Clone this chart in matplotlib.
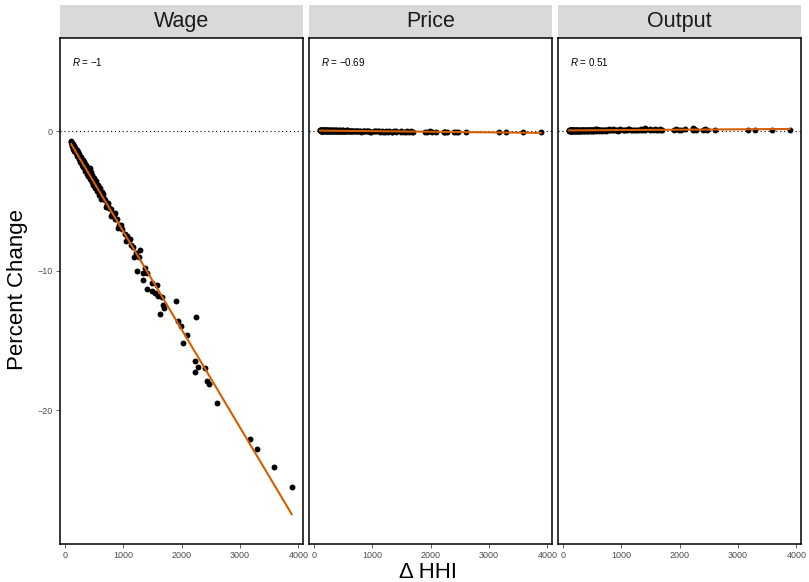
import matplotlib
matplotlib.use("Agg")
import matplotlib.pyplot as plt
from matplotlib.patches import Rectangle
import numpy as np

plt.rcParams['font.family'] = ['Liberation Sans', 'DejaVu Sans']
plt.rcParams['mathtext.fontset'] = 'custom'
plt.rcParams['mathtext.rm'] = 'Liberation Sans'
plt.rcParams['mathtext.it'] = 'Liberation Sans:italic'

# change in HHI for each simulated merger
delta_hhi = [105, 112, 118, 125, 130, 138, 145, 150, 158, 165,
             172, 180, 188, 195, 205, 215, 222, 230, 240, 250,
             262, 270, 285, 295, 310, 322, 335, 350, 362, 378,
             390, 405, 420, 432, 448, 460, 475, 490, 505, 520,
             538, 555, 570, 590, 610, 628, 645, 665, 690, 712,
             735, 760, 785, 810, 838, 865, 890, 920, 950, 985,
             1020, 1055, 1090, 1130, 1170, 1210, 1240, 1260, 1286, 1332,
             1335, 1371, 1400, 1411, 1486, 1490, 1543, 1571, 1600, 1629,
             1657, 1686, 1690, 1903, 1932, 1989, 2017, 2086, 2229, 2232,
             2240, 2286, 2400, 2429, 2474, 2600, 3172, 3286, 3589, 3886,
             108, 121, 134, 142, 155, 162, 176, 184, 199, 210,
             226, 236, 246, 258, 278, 290, 302, 316, 329, 342,
             356, 370, 384, 398, 413, 426, 441, 455, 468, 483,
             498, 512, 530, 546, 562, 580, 600, 620, 655, 700,
             745, 795, 850, 905, 965, 1040, 1110, 1190]

wage = [-0.80, -0.95, -0.88, -1.02, -0.98, -1.12, -1.05, -1.20, -1.22, -1.30,
        -1.25, -1.40, -1.45, -1.38, -1.62, -1.55, -1.70, -1.74, -1.80, -1.95,
        -1.88, -2.05, -2.12, -2.20, -2.35, -2.25, -2.50, -2.62, -2.55, -2.78,
        -2.85, -3.00, -3.05, -2.67, -3.30, -3.38, -3.50, -3.42, -3.72, -3.80,
        -3.95, -3.88, -4.15, -4.30, -4.45, -4.38, -4.70, -4.85, -4.92, -5.20,
        -5.35, -5.52, -5.60, -5.95, -6.05, -6.28, -6.30, -6.70, -6.80, -7.05,
        -7.40, -7.55, -7.75, -8.20, -8.30, -8.75, -10.0, -9.05, -8.53, -10.2,
        -10.7, -9.84, -11.3, -10.2, -10.9, -11.45, -11.6, -11.0, -11.8, -13.1,
        -11.9, -12.5, -12.7, -12.2, -13.6, -14.0, -15.2, -14.6, -16.5, -17.3,
        -13.3, -16.9, -16.97, -17.9, -18.1, -19.5, -22.1, -22.8, -24.1, -25.5,
        -0.70, -1.10, -0.90, -1.30, -1.05, -1.45, -1.20, -1.60, -1.35, -1.82,
        -1.50, -2.00, -1.65, -2.20, -1.85, -2.40, -2.05, -2.60, -2.20, -2.85,
        -2.40, -3.05, -2.55, -3.25, -2.75, -3.45, -2.95, -3.65, -3.15, -3.85,
        -3.40, -4.05, -3.60, -4.30, -3.85, -4.55, -4.10, -4.85, -4.50, -5.45,
        -5.15, -6.10, -5.90, -6.95, -6.70, -7.90, -7.75, -9.00]

price = [0.06, 0.02, 0.08, 0.04, 0.01, 0.07, 0.03, 0.05, -0.01, 0.06,
         0.02, 0.04, 0.08, 0.00, 0.05, 0.03, 0.06, -0.02, 0.04, 0.02,
         0.05, 0.01, 0.07, 0.03, -0.01, 0.04, 0.02, 0.06, 0.00, 0.03,
         0.05, -0.02, 0.03, 0.01, 0.05, -0.01, 0.02, 0.04, 0.00, 0.03,
         -0.03, 0.02, 0.04, -0.01, 0.01, 0.03, -0.02, 0.02, 0.00, -0.03,
         0.02, -0.01, 0.01, -0.04, 0.00, 0.02, -0.03, -0.01, 0.01, -0.04,
         -0.01, -0.03, 0.00, -0.05, -0.02, -0.04, 0.00, -0.06, -0.02, -0.04,
         -0.07, -0.01, -0.05, -0.03, -0.06, -0.02, -0.04, -0.08, -0.03, -0.06,
         -0.02, -0.10, -0.05, -0.04, -0.07, -0.03, -0.08, -0.05, -0.09, -0.04,
         -0.06, -0.10, -0.05, -0.08, -0.04, -0.07, -0.06, -0.09, -0.07, -0.05,
         0.05, 0.01, 0.07, 0.03, 0.00, 0.06, 0.04, 0.02, 0.07, 0.01,
         0.05, 0.03, -0.01, 0.06, 0.02, 0.04, 0.00, 0.05, 0.01, 0.03,
         0.06, -0.02, 0.04, 0.02, 0.00, 0.05, 0.01, 0.03, -0.02, 0.04,
         0.01, 0.03, -0.01, 0.02, 0.04, 0.00, 0.02, -0.02, 0.01, -0.01,
         0.02, -0.03, 0.00, -0.02, -0.04, -0.01, -0.03, -0.05]

output = [0.03, 0.08, -0.02, 0.05, 0.10, 0.01, 0.06, -0.03, 0.04, 0.09,
          0.00, 0.05, 0.02, 0.07, -0.01, 0.04, 0.08, 0.01, 0.06, 0.03,
          -0.02, 0.05, 0.09, 0.02, 0.06, 0.00, 0.04, 0.10, 0.03, 0.07,
          0.01, 0.05, 0.11, 0.02, 0.06, 0.04, 0.00, 0.08, 0.05, 0.02,
          0.07, 0.12, 0.03, 0.06, 0.01, 0.09, 0.05, 0.03, 0.10, 0.06,
          0.02, 0.08, 0.14, 0.04, 0.07, 0.11, 0.05, 0.09, 0.03, 0.12,
          0.06, 0.10, 0.04, 0.13, 0.07, 0.09, 0.05, 0.11, 0.08, 0.12,
          0.06, 0.10, 0.22, 0.07, 0.11, 0.14, 0.09, 0.12, 0.06, 0.10,
          0.13, 0.08, 0.11, 0.09, 0.12, 0.07, 0.11, 0.14, 0.20, 0.10,
          0.13, 0.08, 0.11, 0.15, 0.09, 0.06, 0.08, 0.11, 0.07, 0.05,
          0.04, 0.00, 0.07, 0.02, 0.09, -0.01, 0.05, 0.08, 0.03, 0.06,
          0.01, 0.09, 0.04, 0.00, 0.07, 0.03, 0.08, 0.02, 0.05, 0.10,
          0.01, 0.06, 0.04, 0.09, 0.02, 0.07, 0.05, 0.11, 0.03, 0.06,
          0.08, 0.02, 0.10, 0.05, 0.07, 0.12, 0.04, 0.08, 0.06, 0.11,
          0.05, 0.09, 0.13, 0.07, 0.10, 0.08, 0.12, 0.09]

panels = ["Wage", "Price", "Output"]
cor_values = ["\u22121", "\u22120.69", "0.51"]
series = [wage, price, output]

W, H = 809, 582
fig = plt.figure(figsize=(W / 100, H / 100), dpi=100)

lefts = [60, 309, 558]
pw = 243
top, bottom = 38, 544
strip_h = 33

x = np.array(delta_hhi, dtype=float)
for i, (name, rval, vals) in enumerate(zip(panels, cor_values, series)):
    ax = fig.add_axes([lefts[i] / W, 1 - bottom / H, pw / W, (bottom - top) / H])
    y = np.array(vals, dtype=float)

    ax.axhline(0, color="black", lw=0.8, ls=(0, (1, 2.5)), zorder=1)
    ax.scatter(x, y, s=18, color="black", zorder=2, linewidths=0)
    slope, icpt = np.polyfit(x, y, 1)
    xs = np.array([x.min(), x.max()])
    ax.plot(xs, icpt + slope * xs, color="#D55E00", lw=1.5, zorder=3)

    ax.set_xlim(-86, 4080)
    ax.set_ylim(-29.6, 6.67)
    ax.set_xticks([0, 1000, 2000, 3000, 4000])
    ax.set_yticks([0, -10, -20])
    ax.tick_params(colors="#4D4D4D", labelsize=6.5, length=3, width=0.6, pad=2)
    if i > 0:
        ax.tick_params(axis="y", left=False, labelleft=False)
    for sp in ax.spines.values():
        sp.set_linewidth(1.1)
        sp.set_color("black")

    ax.text(120, 4.95, "$R$ = " + rval, fontsize=7, ha="left", va="center")

    sh = strip_h / (bottom - top)
    ax.add_patch(Rectangle((0, 1), 1, sh, transform=ax.transAxes,
                           facecolor="#D9D9D9", edgecolor="none", clip_on=False))
    ax.text(0.5, 1 + sh / 2, name, transform=ax.transAxes, ha="center",
            va="center", fontsize=15.5, color="#1A1A1A")

fig.text(18 / W, 1 - 289 / H, "Percent Change", rotation=90, ha="center",
         va="center", fontsize=16)
fig.text(428 / W, 1 - 573 / H, "Δ HHI", ha="center", va="center", fontsize=16)

fig.savefig("out.png", dpi=100, facecolor="white")
